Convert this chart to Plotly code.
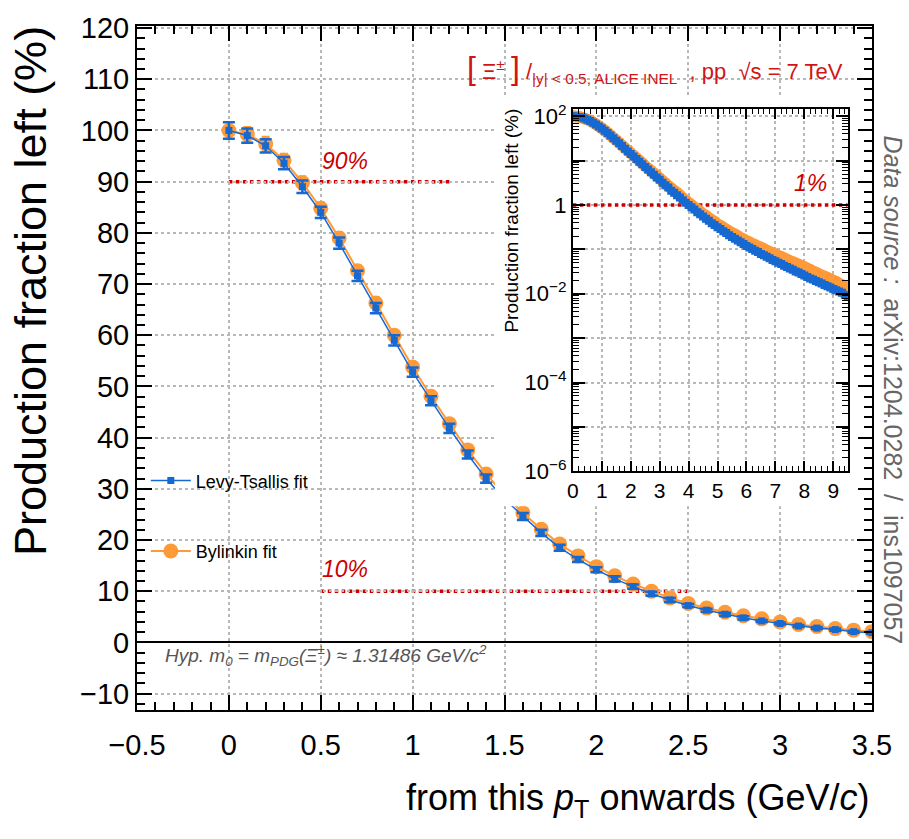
import plotly.graph_objects as go

# ---------------- data ----------------
pt_main = [round(0.1 * i, 1) for i in range(36)]          # 0.0 ... 3.5 GeV/c
levy_main = [100.0, 99.0, 97.0, 93.6, 89.0, 84.0, 78.0, 71.6, 65.3, 59.0,
             52.8, 47.2, 41.8, 36.7, 32.0, 28.0, 24.6, 21.4, 18.5, 16.2,
             14.2, 12.4, 10.9, 9.5, 8.3, 7.2, 6.3, 5.5, 4.8, 4.2,
             3.7, 3.2, 2.8, 2.5, 2.1, 1.9]
levy_err = [1.6, 1.4, 1.3, 1.2, 1.2, 1.1, 1.1, 1.0, 1.0, 1.0,
            0.9, 0.9, 0.9, 0.8, 0.8, 0.7, 0.7, 0.6, 0.6, 0.5,
            0.5, 0.5, 0.4, 0.4, 0.4, 0.3, 0.3, 0.3, 0.3, 0.2,
            0.2, 0.2, 0.2, 0.2, 0.2, 0.2]
bylinkin_main = [100.0, 99.2, 97.4, 94.2, 89.8, 84.8, 79.0, 72.6, 66.3, 60.0,
                 53.8, 48.1, 42.7, 37.6, 32.9, 28.8, 25.3, 22.1, 19.2, 16.9,
                 14.8, 13.0, 11.4, 10.0, 8.7, 7.6, 6.7, 5.9, 5.2, 4.6,
                 4.0, 3.5, 3.1, 2.7, 2.4, 2.1]
bylinkin_err = [1.7, 1.5, 1.4, 1.3, 1.3, 1.2, 1.2, 1.1, 1.1, 1.0,
                1.0, 0.9, 0.9, 0.8, 0.8, 0.7, 0.7, 0.6, 0.6, 0.6,
                0.5, 0.5, 0.5, 0.4, 0.4, 0.4, 0.3, 0.3, 0.3, 0.3,
                0.2, 0.2, 0.2, 0.2, 0.2, 0.2]

pt_tail = [round(3.6 + 0.1 * i, 1) for i in range(60)]    # 3.6 ... 9.5 GeV/c
levy_tail = [1.66, 1.48, 1.29, 1.12, 1.00, 0.89, 0.79, 0.69, 0.62, 0.55,
             0.49, 0.44, 0.39, 0.355, 0.316, 0.288, 0.257, 0.234, 0.209, 0.191,
             0.174, 0.158, 0.145, 0.132, 0.120, 0.110, 0.102, 0.093, 0.087, 0.079,
             0.074, 0.068, 0.063, 0.058, 0.054, 0.050, 0.047, 0.043, 0.040, 0.037,
             0.035, 0.032, 0.030, 0.028, 0.026, 0.024, 0.022, 0.021, 0.0195, 0.0182,
             0.0170, 0.0158, 0.0148, 0.0138, 0.0129, 0.0120, 0.0112, 0.0105, 0.0095, 0.0089]
bylinkin_tail = [1.90, 1.66, 1.45, 1.26, 1.12, 1.00, 0.89, 0.79, 0.71, 0.63,
                 0.575, 0.51, 0.46, 0.42, 0.37, 0.34, 0.31, 0.28, 0.257, 0.234,
                 0.219, 0.200, 0.182, 0.170, 0.155, 0.145, 0.135, 0.126, 0.117, 0.110,
                 0.102, 0.095, 0.089, 0.083, 0.078, 0.072, 0.068, 0.063, 0.059, 0.055,
                 0.052, 0.049, 0.046, 0.043, 0.040, 0.037, 0.035, 0.032, 0.030, 0.028,
                 0.026, 0.0245, 0.023, 0.0214, 0.020, 0.0186, 0.0170, 0.0158, 0.0148, 0.0135]

x_tick_vals = [-0.5, 0, 0.5, 1, 1.5, 2, 2.5, 3, 3.5]
x_tick_text = ["\u22120.5", "0", "0.5", "1", "1.5", "2", "2.5", "3", "3.5"]
y_tick_vals = [-10, 0, 10, 20, 30, 40, 50, 60, 70, 80, 90, 100, 110, 120]
inset_x_ticks = [0, 1, 2, 3, 4, 5, 6, 7, 8, 9]
inset_y_vals = [1e-6, 1e-5, 1e-4, 1e-3, 1e-2, 1e-1, 1, 10, 100]
inset_y_text = ["10<sup>\u22126</sup>", "", "10<sup>\u22124</sup>", "", "10<sup>\u22122</sup>",
                "", "1", "", "10<sup>2</sup>"]

thresholds = [90, 10]            # main-plot reference levels (%)
threshold_spans = [(0, 1.2), (0.5, 2.5)]
inset_threshold = 1              # inset reference level (%)

# ---------------- styles ----------------
FONT = "Liberation Sans, Arial, Helvetica, sans-serif"
BLUE = "#1769d2"
ORANGE = "#ff9a38"
RED = "#cc0000"
GRID = "#b8b8b8"

pt_inset = pt_main + pt_tail
levy_inset = levy_main + levy_tail
bylinkin_inset = bylinkin_main + bylinkin_tail

fig = go.Figure()

# main plot
fig.add_trace(go.Scatter(
    x=pt_main, y=bylinkin_main, name="Bylinkin fit", mode="lines+markers",
    line=dict(color=ORANGE, width=2),
    marker=dict(symbol="circle", size=15, color=ORANGE),
    error_y=dict(type="data", array=bylinkin_err, color=ORANGE, thickness=1.5, width=4),
    legendrank=2, legendgroup="b"))
fig.add_trace(go.Scatter(
    x=pt_main, y=levy_main, name="Levy-Tsallis fit", mode="lines+markers",
    line=dict(color=BLUE, width=1.5),
    marker=dict(symbol="square", size=7, color=BLUE),
    error_y=dict(type="data", array=levy_err, color=BLUE, thickness=2.5, width=6),
    legendrank=1, legendgroup="a"))

# white pad behind the inset (empty subplot, its own background covers the main plot)
fig.add_trace(go.Scatter(x=[None], y=[None], xaxis="x2", yaxis="y2",
                         showlegend=False, hoverinfo="skip"))

# inset
fig.add_trace(go.Scatter(x=[0, 9.5], y=[inset_threshold, inset_threshold],
                         xaxis="x3", yaxis="y3", mode="lines",
                         line=dict(color=RED, width=3.5, dash="dot"),
                         showlegend=False, hoverinfo="skip"))
fig.add_trace(go.Scatter(x=pt_inset, y=bylinkin_inset, xaxis="x3", yaxis="y3",
                         mode="markers", marker=dict(symbol="circle", size=12, color=ORANGE),
                         showlegend=False))
fig.add_trace(go.Scatter(x=pt_inset, y=levy_inset, xaxis="x3", yaxis="y3",
                         mode="markers", marker=dict(symbol="square", size=8, color=BLUE),
                         showlegend=False))

# threshold lines in the main plot
for lvl, (x0, x1) in zip(thresholds, threshold_spans):
    fig.add_shape(type="line", xref="x", yref="y", x0=x0, x1=x1, y0=lvl, y1=lvl,
                  line=dict(color=RED, width=3.5, dash="dot"), layer="below")

axis_common = dict(showline=True, linecolor="black", linewidth=2, mirror="allticks",
                   ticks="inside", tickcolor="black", showgrid=True, gridcolor=GRID,
                   griddash="dot", gridwidth=1.5, zeroline=False)

fig.update_layout(
    width=909, height=839,
    margin=dict(l=137, r=37, t=22, b=129),
    paper_bgcolor="white", plot_bgcolor="white",
    font=dict(family=FONT, color="black"),
    showlegend=True,
    legend=dict(x=0.012, y=0.362, xanchor="left", yanchor="top",
                font=dict(size=18, family=FONT), bgcolor="rgba(0,0,0,0)",
                tracegroupgap=44, itemwidth=40, traceorder="grouped"),
    xaxis=dict(range=[-0.5, 3.5], tickmode="array", tickvals=x_tick_vals, ticktext=x_tick_text,
               ticklen=15, tickwidth=2, tickfont=dict(size=29), ticklabelstandoff=8,
               minor=dict(ticks="inside", dtick=0.1, tick0=0, ticklen=8, tickwidth=1.5,
                          tickcolor="black", showgrid=False),
               **axis_common),
    yaxis=dict(range=[-13.2, 120.4], tickmode="array", tickvals=y_tick_vals,
               ticklen=15, tickwidth=2, tickfont=dict(size=29),
               minor=dict(ticks="inside", dtick=2, tick0=0, ticklen=8, tickwidth=1.5,
                          tickcolor="black", showgrid=False),
               **{**axis_common, "zeroline": True}, zerolinecolor="black", zerolinewidth=1.5),
    xaxis2=dict(domain=[0.487, 0.981], visible=False, range=[0, 1], anchor="y2", fixedrange=True),
    yaxis2=dict(domain=[0.298, 0.898], visible=False, range=[0, 1], anchor="x2", fixedrange=True),
    xaxis3=dict(domain=[0.593, 0.967], anchor="y3", range=[0, 9.5], tickmode="array",
                tickvals=inset_x_ticks, ticklen=10, tickwidth=2, tickfont=dict(size=21),
                minor=dict(ticks="inside", dtick=0.2, tick0=0, ticklen=5, tickwidth=1,
                           tickcolor="black", showgrid=False),
                **axis_common),
    yaxis3=dict(domain=[0.349, 0.879], anchor="x3", type="log", range=[-6, 2.17],
                tickmode="array", tickvals=inset_y_vals, ticktext=inset_y_text,
                ticklen=12, tickwidth=2, tickfont=dict(size=22),
                minor=dict(ticks="inside", dtick="D1", ticklen=6, tickwidth=1,
                           tickcolor="black", showgrid=False),
                **axis_common),
)

ann = []
# y-axis title (top-aligned, ROOT style)
ann.append(dict(text="Production fraction left (%)", xref="paper", yref="paper",
                x=-0.144, y=1.003, xanchor="center", yanchor="top", textangle=-90,
                showarrow=False, font=dict(size=45, family=FONT, color="black")))
# x-axis title (right-aligned)
ann.append(dict(text="from this <i>p</i><sub>T</sub> onwards (GeV/<i>c</i>)", xref="paper",
                yref="paper", x=1.0, y=-0.131, xanchor="right", yanchor="middle",
                showarrow=False, font=dict(size=36, family=FONT, color="black")))
# header
ann.append(dict(text="<span style='font-size:32px'>[</span> \u039E<sup>\u00B1</sup> "
                     "<span style='font-size:32px'>]</span> /<sub>|y| &lt; 0.5, ALICE INEL</sub>"
                     "  , pp  \u221As = 7 TeV",
                xref="paper", yref="paper", x=0.963, y=0.9375, xanchor="right",
                yanchor="middle", showarrow=False,
                font=dict(size=22, family=FONT, color="#d01515")))
# threshold labels
ann.append(dict(text="<i>90%</i>", xref="x", yref="y", x=0.63, y=94.0, showarrow=False,
                font=dict(size=23, family=FONT, color=RED)))
ann.append(dict(text="<i>10%</i>", xref="x", yref="y", x=0.63, y=14.4, showarrow=False,
                font=dict(size=23, family=FONT, color=RED)))
ann.append(dict(text="<i>1%</i>", xref="x3", yref="y3", x=8.2, y=0.5,
                showarrow=False, font=dict(size=23, family=FONT, color=RED)))
# hypothesis mass
ann.append(dict(text="<i>Hyp. m<sub>0</sub> = m<sub>PDG</sub>(\u039E<sup>\u00B1</sup>) \u2248 "
                     "1.31486 GeV/c<sup>2</sup></i>",
                xref="paper", yref="paper", x=0.035, y=0.08, xanchor="left", yanchor="middle",
                showarrow=False, font=dict(size=19, family=FONT, color="#555555")))
# data source
ann.append(dict(text="<i>Data source :</i>  arXiv:1204.0282  /  ins1097057",
                xref="paper", yref="paper", x=1.029, y=0.468, xanchor="center",
                yanchor="middle", textangle=90, showarrow=False,
                font=dict(size=25, family=FONT, color="#666666")))
# inset y title
ann.append(dict(text="Production fraction left (%)", xref="paper", yref="paper",
                x=0.510, y=0.882, xanchor="center", yanchor="top", textangle=-90,
                showarrow=False, font=dict(size=19, family=FONT, color="black")))
fig.update_layout(annotations=ann)

fig.write_html("out.html", config={"displayModeBar": False},
               post_script="document.body.style.margin='0px';")
